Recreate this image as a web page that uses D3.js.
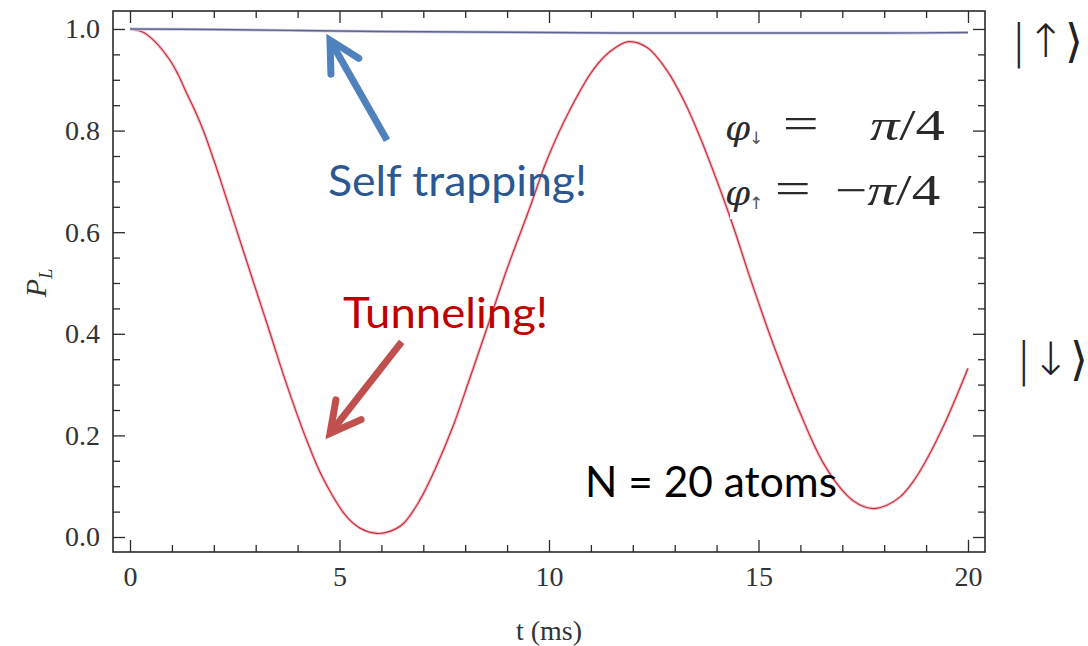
<!DOCTYPE html>
<html>
<head>
<meta charset="utf-8">
<script src="https://cdn.jsdelivr.net/npm/d3@7"></script>
<style>
  body { margin: 0; background: #fff; }
  svg { display: block; }
</style>
</head>
<body>
<svg id="chart" width="1088" height="646"></svg>
<script>
// Values
// Tunneling curve (red)
const tRed = [0, 0.3, 0.56, 0.95, 1.15, 1.35, 1.55, 1.75, 1.95, 2.15, 2.54, 2.93, 3.34, 3.74, 4.22, 4.61,
    5.17, 5.5, 5.89, 6.2, 6.52, 6.92, 7.3, 7.71, 8.1, 8.51, 9.0, 9.55, 9.95, 10.5, 11.05, 11.45, 11.9,
    12.35, 12.81, 13.2, 13.6, 14.32, 14.8, 15.35, 15.99, 16.55, 17.1, 17.4, 17.74, 18.05, 18.38,
    18.7, 19.01, 19.49, 20];
const pRed = [1.000, 0.994, 0.978, 0.939, 0.910, 0.874, 0.839, 0.800, 0.754, 0.705, 0.605, 0.506, 0.402, 0.300, 0.190, 0.115,
    0.040, 0.017, 0.007, 0.011, 0.026, 0.073, 0.137, 0.218, 0.310, 0.409, 0.528, 0.650, 0.742, 0.841, 0.919, 0.955, 0.975,
    0.963, 0.919, 0.862, 0.788, 0.630, 0.510, 0.380, 0.245, 0.145, 0.083, 0.064, 0.056, 0.062, 0.079,
    0.110, 0.152, 0.232, 0.332];

// Self trapping curve (blue)
const tBlue = [0, 2, 4, 6, 8, 10, 12, 14, 16, 18, 20];
const pBlue = [1.000, 0.999, 0.997, 0.995, 0.994, 0.993, 0.992, 0.992, 0.992, 0.992, 0.993];

// Ticks
const xMajorTicks = [0, 5, 10, 15, 20];
const xMinorTicks = [1, 2, 3, 4, 6, 7, 8, 9, 11, 12, 13, 14, 16, 17, 18, 19];
const yMajorTicks = [0, 0.2, 0.4, 0.6, 0.8, 1.0];
const yMinorTicks = [0.05, 0.1, 0.15, 0.25, 0.3, 0.35, 0.45, 0.5, 0.55, 0.65, 0.7, 0.75, 0.85, 0.9, 0.95];

// Plot frame
let frameL = 113, frameR = 985, frameT = 11, frameB = 552;

let svg = d3.select("#chart");

let x = d3.scaleLinear().domain([-0.406, 20.406]).range([frameL, frameR]);
let y = d3.scaleLinear().domain([-0.0295, 1.0354]).range([frameB, frameT]);

// Draws one frame side: major + minor ticks pointing inward
function drawAxis(axisFn, scale, transform, major, minor, labels) {
    let g = svg.append("g").attr("transform", transform);
    let a = axisFn(scale).tickValues(major).tickSize(-12).tickPadding(14);
    if (!labels) a.tickFormat("");
    else a.tickFormat(d3.format(".0f"));
    g.call(a);
    g.select(".domain").remove();
    let m = svg.append("g").attr("transform", transform)
        .call(axisFn(scale).tickValues(minor).tickSize(-7).tickFormat(""));
    m.select(".domain").remove();
    return g;
}

let gx = drawAxis(d3.axisBottom, x, `translate(0,${frameB})`, xMajorTicks, xMinorTicks, true);
drawAxis(d3.axisTop, x, `translate(0,${frameT})`, xMajorTicks, xMinorTicks, false);
let gy = drawAxis(d3.axisLeft, y, `translate(${frameL},0)`, yMajorTicks, yMinorTicks, true);
drawAxis(d3.axisRight, y, `translate(${frameR},0)`, yMajorTicks, yMinorTicks, false);

gy.selectAll("text").text(d => d3.format(".1f")(d)).attr("dx", "1px");

svg.selectAll(".tick line").attr("stroke", "#2a2a2a").attr("stroke-width", 1.3);
svg.selectAll(".tick text")
    .attr("fill", "#333")
    .style("font-family", "'Liberation Serif', serif")
    .style("font-size", "28px");

// Frame
svg.append("rect")
    .attr("x", frameL).attr("y", frameT)
    .attr("width", frameR - frameL).attr("height", frameB - frameT)
    .attr("fill", "none").attr("stroke", "#2a2a2a").attr("stroke-width", 1.6);

// Axis titles
svg.append("text")
    .attr("x", x(10)).attr("y", 640)
    .attr("text-anchor", "middle")
    .attr("fill", "#333")
    .style("font-family", "'Liberation Serif', serif")
    .style("font-size", "28px")
    .text("t (ms)");

let yl = svg.append("text")
    .attr("transform", "translate(46,283) rotate(-90)")
    .attr("text-anchor", "middle")
    .attr("fill", "#333")
    .style("font-family", "'Liberation Serif', serif")
    .style("font-size", "30px")
    .style("font-style", "italic");
yl.append("tspan").text("P");
yl.append("tspan").attr("dy", 6).style("font-size", "18px").text("L");

// Curves
let line = d3.line().curve(d3.curveCatmullRom.alpha(0.5));

let redPts = tRed.map((t, i) => [x(t), y(pRed[i])]);
let bluePts = tBlue.map((t, i) => [x(t), y(pBlue[i])]);

svg.append("path").attr("d", line(redPts))
    .attr("fill", "none").attr("stroke", "#f6c4c8").attr("stroke-width", 3.2);
svg.append("path").attr("d", line(redPts))
    .attr("fill", "none").attr("stroke", "#c43043").attr("stroke-width", 1.2);

svg.append("path").attr("d", line(bluePts))
    .attr("fill", "none").attr("stroke", "#c9cbe0").attr("stroke-width", 3);
svg.append("path").attr("d", line(bluePts))
    .attr("fill", "none").attr("stroke", "#5f6392").attr("stroke-width", 1.4);

// Phase box (white background over the plot)
svg.append("rect")
    .attr("x", x(14.32)).attr("y", y(0.87))
    .attr("width", 222).attr("height", 124)
    .attr("fill", "#fff");

let mathFont = "'Liberation Serif', serif";
function mathLine(vBase, eqT, rhsT, rhs, rhsLen, arrow) {
    svg.append("text")
        .attr("x", x(14.2)).attr("y", y(vBase))
        .attr("fill", "#2a2a2a")
        .style("font-family", "'DejaVu Serif', serif").style("font-size", "36px").style("font-style", "italic")
        .text("\u03C6");
    svg.append("text")
        .attr("x", x(14.2) + 24).attr("y", y(vBase) + 4)
        .attr("fill", "#555")
        .style("font-family", "'DejaVu Sans', sans-serif").style("font-size", "17px")
        .text(arrow);
    svg.append("text")
        .attr("x", x(eqT)).attr("y", y(vBase) - 2)
        .attr("fill", "#2a2a2a")
        .attr("textLength", 36).attr("lengthAdjust", "spacingAndGlyphs")
        .style("font-family", mathFont).style("font-size", "44px")
        .text("=");
    let r = svg.append("text")
        .attr("x", x(rhsT)).attr("y", y(vBase))
        .attr("fill", "#2a2a2a")
        .attr("textLength", rhsLen).attr("lengthAdjust", "spacingAndGlyphs")
        .style("font-family", mathFont).style("font-size", "44px");
    if (rhs.startsWith("-")) r.append("tspan").text("\u2212");
    r.append("tspan").style("font-style", "italic").text("\u03C0");
    r.append("tspan").text("/4");
}
mathLine(0.781, 15.58, 17.66, "pi", 75, "\u2193");
mathLine(0.654, 15.39, 16.83, "-pi", 105, "\u2191");

// Annotation arrows (tip and tail in data units)
function arrow(tail, tip, color, w) {
    let x0 = x(tail[0]), y0 = y(tail[1]);
    let x1 = x(tip[0]), y1 = y(tip[1]);
    let dx = x1 - x0, dy = y1 - y0;
    let len = Math.sqrt(dx * dx + dy * dy);
    let ux = dx / len, uy = dy / len;
    let nx = -uy, ny = ux;
    let L = 30, W = 16;
    let bx = x1 - ux * L, by = y1 - uy * L;
    svg.append("line")
        .attr("x1", x0).attr("y1", y0)
        .attr("x2", x1 - ux * 3).attr("y2", y1 - uy * 3)
        .attr("stroke", color).attr("stroke-width", w);
    svg.append("path")
        .attr("d", `M${bx + nx * W},${by + ny * W} L${x1},${y1} L${bx - nx * W},${by - ny * W}`)
        .attr("fill", "none").attr("stroke", color).attr("stroke-width", w)
        .attr("stroke-linejoin", "miter").attr("stroke-linecap", "round");
}
arrow([6.134, 0.781], [4.773, 0.978], "#4f81bd", 7);
arrow([6.484, 0.384], [4.773, 0.204], "#c0504d", 7);

// Annotation texts
let noteFont = "Lato, 'Open Sans', sans-serif";
function note(t, v, txt, color, len) {
    svg.append("text")
        .attr("x", x(t)).attr("y", y(v))
        .attr("fill", color)
        .attr("textLength", len).attr("lengthAdjust", "spacingAndGlyphs")
        .style("font-family", noteFont).style("font-size", "42px")
        .text(txt);
}
note(4.726, 0.671, "Self trapping!", "#2b5891", 259);
note(5.084, 0.411, "Tunneling!", "#c00000", 205);
note(10.86, 0.0787, "N = 20 atoms", "#000", 252);

// Spin state labels on the right
function ket(x0, base, arrowChar) {
    svg.append("text").attr("x", x0).attr("y", base).attr("fill", "#222")
        .style("font-family", "'DejaVu Sans', sans-serif")
        .style("font-size", "46px").style("font-weight", 200)
        .text("|" + arrowChar + "\u27E9");
}
ket(1011, 57, "\u2191");
ket(1016, 375, "\u2193");
</script>
</body>
</html>
